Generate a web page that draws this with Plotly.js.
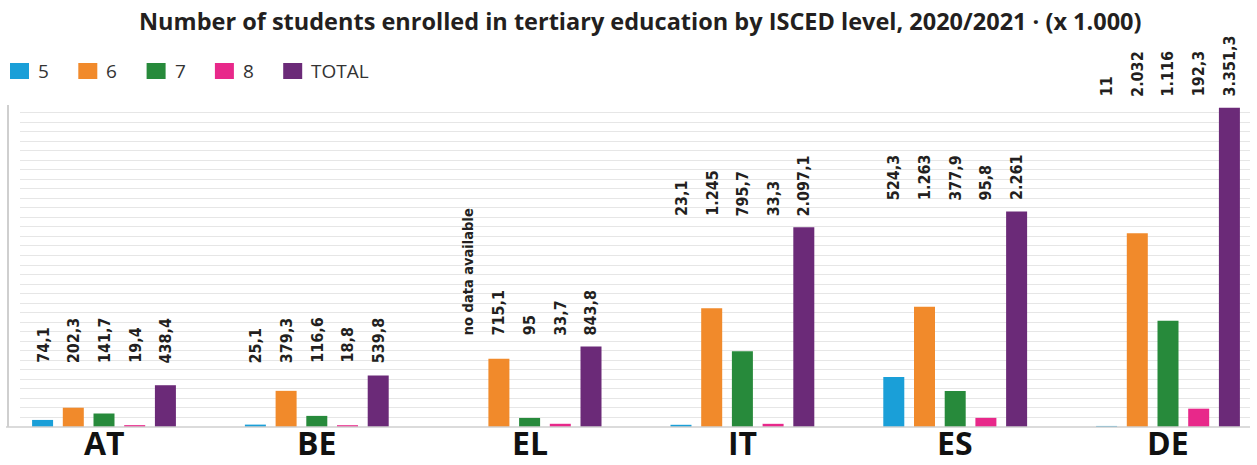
<!DOCTYPE html>
<html>
<head>
<meta charset="utf-8">
<script src="https://cdn.plot.ly/plotly-3.0.1.min.js"></script>
<style>html,body{margin:0;padding:0;background:#fff;}#chart{width:1257px;height:465px;}</style>
</head>
<body>
<div id="chart"></div>
<script>
// ---- data ----
const countries = ["AT", "BE", "EL", "IT", "ES", "DE"];
const seriesNames = ["5", "6", "7", "8", "TOTAL"];
const isced5 = [74.1, 25.1, null, 23.1, 524.3, 11];
const isced6 = [202.3, 379.3, 715.1, 1245, 1263, 2032];
const isced7 = [141.7, 116.6, 95, 795.7, 377.9, 1116];
const isced8 = [19.4, 18.8, 33.7, 33.3, 95.8, 192.3];
const total = [438.4, 539.8, 843.8, 2097.1, 2261, 3351.3];
const missingText = "no data available";
const titleText = "Number of students enrolled in tertiary education by ISCED level, 2020/2021 \u00b7 (x 1.000)";

// ---- styling ----
const colors = ["#1a9fd8", "#f18a2b", "#278a3b", "#e8288a", "#6b2a78"];
const series = [isced5, isced6, isced7, isced8, total];

const W = 1257, H = 465;
const L = 20, R = 7, T = 103, B = 38;
const plotW = W - L - R, plotH = H - T - B;
const groupPx = 212.8;      // px per category
const firstCenter = 104;    // px centre of first group
const slotPx = 30.7;        // px between bars in a group
const xmin = (L - firstCenter) / groupPx;
const xmax = (W - R - firstCenter) / groupPx;
const ymax = 3400;

function fmt(v) {
  const s = String(v).split(".");
  const intPart = s[0].replace(/\B(?=(\d{3})+(?!\d))/g, ".");
  return s.length > 1 ? intPart + "," + s[1] : intPart;
}

const traces = series.map((vals, j) => ({
  type: "bar",
  name: seriesNames[j],
  x: countries,
  y: vals,
  marker: {color: colors[j], line: {width: 0}},
  showlegend: false,
  hoverinfo: "skip"
}));

const annotations = [];
const labelFamily = "'Liberation Sans Narrow', 'Arial Narrow', 'DejaVu Sans Condensed', sans-serif";
countries.forEach((c, i) => {
  const groupMax = Math.max(...series.map(s => s[i] || 0));
  const level = Math.max(groupMax + 95, 650);
  series.forEach((s, j) => {
    const v = s[i];
    const missing = v == null;
    annotations.push({
      x: c, y: level / ymax, xref: "x", yref: "paper",
      xshift: (j - 2) * slotPx,
      text: "<b>" + (missing ? missingText : fmt(v)) + "</b>",
      textangle: -90,
      showarrow: false,
      xanchor: "center", yanchor: "bottom",
      font: {family: labelFamily, size: missing ? 14.5 : 16, color: "#231f20"}
    });
  });
  // country label
  annotations.push({
    x: c, y: -B / plotH, xref: "x", yref: "paper",
    text: "<b>" + c + "</b>", showarrow: false,
    xanchor: "center", yanchor: "bottom", borderpad: 0,
    font: {family: "'Open Sans', 'Noto Sans', sans-serif", size: 32, color: "#111"}
  });
});

// title
annotations.push({
  x: (640 - L) / plotW, y: 1 + (T - 21) / plotH, xref: "paper", yref: "paper",
  text: "<b>" + titleText + "</b>", showarrow: false,
  xanchor: "center", yanchor: "middle",
  font: {family: "'Open Sans', 'Noto Sans', sans-serif", size: 23.5, color: "#231f20"}
});

// custom legend
const shapes = [];
const legendY = 71; // px centre
seriesNames.forEach((n, j) => {
  const x0 = 10 + j * 68.3;
  shapes.push({
    type: "rect", xref: "paper", yref: "paper",
    x0: (x0 - L) / plotW, x1: (x0 + 19 - L) / plotW,
    y0: 1 + (T - (legendY + 8)) / plotH, y1: 1 + (T - (legendY - 8)) / plotH,
    fillcolor: colors[j], line: {width: 0}
  });
  annotations.push({
    x: (x0 + 26 - L) / plotW, y: 1 + (T - legendY) / plotH, xref: "paper", yref: "paper",
    text: n, showarrow: false, xanchor: "left", yanchor: "middle",
    font: {family: "'Open Sans', 'Noto Sans', sans-serif", size: 19, color: "#333"}
  });
});

// axis lines
const axX = (8 - L) / plotW;
shapes.push({type: "line", xref: "paper", yref: "paper", x0: axX, x1: axX, y0: 0, y1: (427 - 105) / plotH,
  line: {color: "#cfcfcf", width: 2}, layer: "below"});
shapes.push({type: "line", xref: "paper", yref: "paper", x0: (6 - L) / plotW, x1: 1, y0: 0, y1: 0,
  line: {color: "#cfcfcf", width: 1.5}});

const layout = {
  width: W, height: H,
  margin: {l: L, r: R, t: T, b: B, pad: 0},
  paper_bgcolor: "#fff", plot_bgcolor: "#fff",
  barmode: "group",
  bargap: 0.2786,
  bargroupgap: 0.316,
  showlegend: false,
  xaxis: {type: "category", range: [xmin, xmax], showgrid: false, showline: false, zeroline: false,
    showticklabels: false, ticks: "", fixedrange: true},
  yaxis: {range: [0, ymax], dtick: 100, tick0: 0, showgrid: true, gridcolor: "#e6e6e6", gridwidth: 1,
    zeroline: false, showline: false, showticklabels: false, ticks: "", fixedrange: true},
  annotations: annotations,
  shapes: shapes
};

Plotly.newPlot("chart", traces, layout, {displayModeBar: false, staticPlot: true});
</script>
</body>
</html>
